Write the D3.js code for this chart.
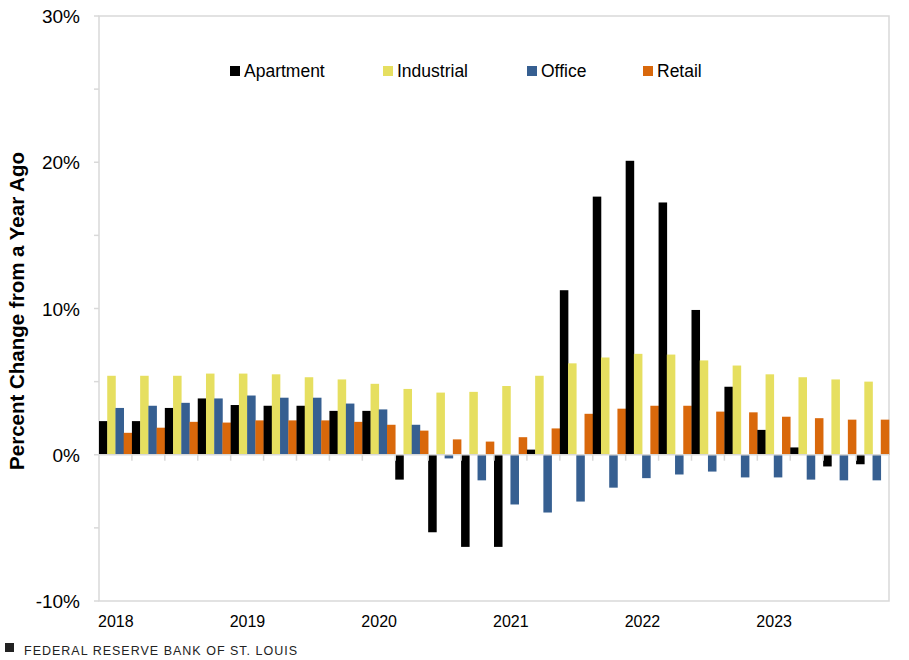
<!DOCTYPE html>
<html>
<head>
<meta charset="utf-8">
<script src="https://cdn.jsdelivr.net/npm/d3@7"></script>
<style>
  body { margin: 0; background: #fff; }
  text { font-family: Arial, "Liberation Sans", sans-serif; }
</style>
</head>
<body>
<div id="chart"></div>
<script>
// quarters 2018Q1 .. 2023Q4
var years = ["2018", "2019", "2020", "2021", "2022", "2023"];
var quarters = [];
years.forEach(function(y) { [1, 2, 3, 4].forEach(function(q) { quarters.push(y + "Q" + q); }); });

var seriesNames = ["Apartment", "Industrial", "Office", "Retail"];
var seriesColors = ["#000000", "#e6df60", "#365f91", "#d9680b"];

var apartment = [2.3, 2.3, 3.2, 3.85, 3.4, 3.35, 3.35, 3.0, 3.0, -1.7, -5.3, -6.3,
                 -6.3, 0.35, 11.25, 17.65, 20.1, 17.25, 9.9, 4.65, 1.7, 0.5, -0.8, -0.65];
var industrial = [5.4, 5.4, 5.4, 5.55, 5.55, 5.5, 5.3, 5.15, 4.85, 4.5, 4.25, 4.3,
                  4.7, 5.4, 6.25, 6.65, 6.9, 6.85, 6.45, 6.1, 5.5, 5.3, 5.15, 5.0];
var office = [3.2, 3.35, 3.55, 3.85, 4.05, 3.9, 3.9, 3.5, 3.1, 2.05, -0.25, -1.75,
              -3.4, -3.95, -3.2, -2.25, -1.6, -1.35, -1.15, -1.55, -1.55, -1.7, -1.75, -1.75];
var retail = [1.5, 1.85, 2.25, 2.2, 2.35, 2.35, 2.35, 2.25, 2.05, 1.65, 1.05, 0.9,
              1.2, 1.8, 2.8, 3.15, 3.35, 3.35, 2.95, 2.9, 2.6, 2.5, 2.4, 2.4];

var yTicks = [-10, -5, 0, 5, 10, 15, 20, 25, 30];
var yLabels = [-10, 0, 10, 20, 30];

var values = [apartment, industrial, office, retail];

var W = 909, H = 660;
var plotL = 99, plotR = 889, plotT = 16, plotB = 601;

var svg = d3.select("#chart").append("svg").attr("width", W).attr("height", H);

var x = d3.scaleBand().domain(quarters).range([plotL, plotR]).paddingInner(0).paddingOuter(0);
var xs = d3.scaleBand().domain(seriesNames).range([0, x.bandwidth()]).padding(0);
var y = d3.scaleLinear().domain([-10, 30]).range([plotB, plotT]);

// frame
svg.append("rect")
  .attr("x", plotL).attr("y", plotT)
  .attr("width", plotR - plotL).attr("height", plotB - plotT)
  .attr("fill", "none").attr("stroke", "#d9d9d9").attr("stroke-width", 1.5);

// y tick marks
svg.selectAll(".ytick").data(yTicks).enter().append("line")
  .attr("x1", plotL - 5).attr("x2", plotL)
  .attr("y1", function(d) { return y(d); }).attr("y2", function(d) { return y(d); })
  .attr("stroke", "#d9d9d9").attr("stroke-width", 1.5);

svg.selectAll(".ylab").data(yLabels).enter().append("text")
  .attr("x", 80).attr("y", function(d) { return y(d) + 7; })
  .attr("text-anchor", "end").attr("font-size", 19).attr("fill", "#000")
  .text(function(d) { return d + "%"; });

// y axis title
svg.append("text")
  .attr("transform", "translate(24," + 311 + ") rotate(-90)")
  .attr("text-anchor", "middle").attr("font-size", 20.5).attr("font-weight", "bold")
  .text("Percent Change from a Year Ago");

// bars
var groups = svg.selectAll(".q").data(quarters).enter().append("g")
  .attr("transform", function(d) { return "translate(" + x(d) + ",0)"; });

groups.selectAll("rect")
  .data(function(d, i) { return seriesNames.map(function(s, k) { return {s: s, v: values[k][i], c: seriesColors[k]}; }); })
  .enter().append("rect")
  .attr("x", function(d) { return xs(d.s); })
  .attr("width", xs.bandwidth() + 0.3)
  .attr("y", function(d) { return y(Math.max(0, d.v)); })
  .attr("height", function(d) { return Math.abs(y(d.v) - y(0)); })
  .attr("fill", function(d) { return d.c; });

// zero line and quarter ticks
svg.append("line")
  .attr("x1", plotL).attr("x2", plotR).attr("y1", y(0)).attr("y2", y(0))
  .attr("stroke", "#d9d9d9").attr("stroke-width", 1.5);

svg.selectAll(".xtick").data(quarters.slice(1)).enter().append("line")
  .attr("x1", function(d) { return x(d); }).attr("x2", function(d) { return x(d); })
  .attr("y1", y(0)).attr("y2", y(0) + 6)
  .attr("stroke", "#d9d9d9").attr("stroke-width", 1.5);

// year labels
svg.selectAll(".year").data(years).enter().append("text")
  .attr("x", function(d) { return x(d + "Q1") - 1; }).attr("y", 627)
  .attr("font-size", 16).attr("fill", "#000")
  .text(function(d) { return d; });

// legend
var legendX = [230, 383, 527, 643];
var lg = svg.selectAll(".lg").data(seriesNames).enter().append("g")
  .attr("transform", function(d, i) { return "translate(" + legendX[i] + ",66)"; });
lg.append("rect").attr("width", 10).attr("height", 10)
  .attr("fill", function(d, i) { return seriesColors[i]; });
lg.append("text").attr("x", 14).attr("y", 10.5).attr("font-size", 17.5).attr("fill", "#000")
  .text(function(d) { return d; });

// footer
svg.append("rect").attr("x", 5).attr("y", 643).attr("width", 9).attr("height", 9).attr("fill", "#222");
svg.append("text").attr("x", 24).attr("y", 655)
  .attr("font-size", 12.5).attr("letter-spacing", 1.0).attr("fill", "#222")
  .text("FEDERAL RESERVE BANK OF ST. LOUIS");
</script>
</body>
</html>
